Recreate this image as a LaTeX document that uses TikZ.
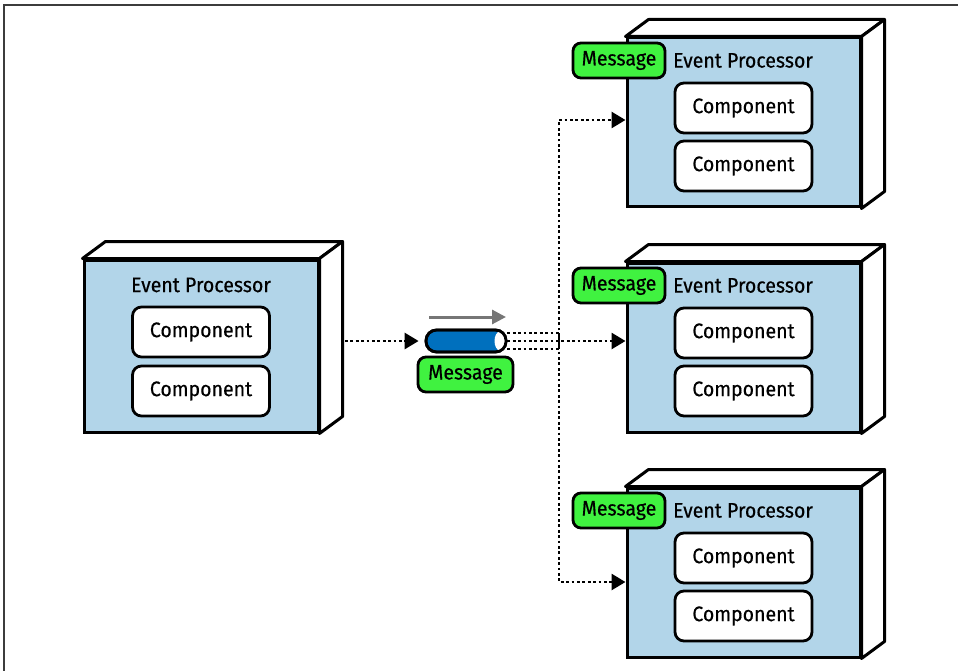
\documentclass[tikz,border=0pt]{standalone}
\usepackage{fontspec}
\setmainfont[FakeStretch=0.93,FakeBold=0.4]{Fira Sans}
\usetikzlibrary{arrows.meta}
\definecolor{facebl}{RGB}{178,213,233}
\definecolor{msggreen}{RGB}{64,242,64}
\definecolor{chanblue}{RGB}{0,112,190}
\definecolor{framegray}{RGB}{60,60,60}
\definecolor{arrgray}{RGB}{118,118,118}
\tikzset{
  front/.style={draw=black, line width=3pt, fill=facebl, minimum width=233pt, minimum height=169pt, inner sep=0pt},
  face/.style={draw=black, line width=3pt, fill=white, line join=round},
  comp/.style={draw=black, line width=2.8pt, fill=white, rounded corners=9pt, minimum width=137pt, minimum height=50pt, inner sep=0pt, font=\fontsize{21}{23}\selectfont},
  title/.style={inner sep=0pt, font=\fontsize{21}{23}\selectfont},
  badge/.style={draw=black, line width=2.8pt, fill=msggreen, rounded corners=8pt, minimum width=92pt, minimum height=35pt, inner sep=0pt, font=\fontsize{21}{23}\selectfont},
  chan/.style={draw=black, line width=2.8pt, fill=chanblue, rounded corners=10.5pt, minimum width=80pt, minimum height=22pt, inner sep=0pt},
  flow/.style={line width=2.8pt, dash pattern=on 2.8pt off 2.6pt, -{Triangle[length=14pt,width=16pt]}},
  dirarrow/.style={line width=3pt, draw=arrgray, -{Triangle[length=14pt,width=14pt]}, color=arrgray},
}
\newcommand{\mkcube}[1]{%
  \draw[face] (#1.north west) -- ++(23,-17) -- ([shift={(23pt,17pt)}]#1.north east) -- (#1.north east) -- cycle;
  \draw[face] (#1.north east) -- ([shift={(23pt,17pt)}]#1.north east) -- ([shift={(23pt,17pt)}]#1.south east) -- (#1.south east) -- cycle;
}
\begin{document}
\begin{tikzpicture}[x=1pt,y=-1pt]
\useasboundingbox (0,0) rectangle (958,671);
\draw[framegray, line width=2pt] (4,671) -- (4,5) -- (958,5);

% left event processor
\node[front, minimum width=234pt, minimum height=172pt] (lf) at (201,346) {};
\mkcube{lf}
\node[title] (lt) at (201,285) {Event Processor};
\node[comp] (lc1) at (201,332) {Component};
\node[comp] (lc2) at (201,391) {Component};

% right processors
\foreach \n/\dy in {a/0,b/225,c/450}{
  \node[front] (f\n) at (743.5,122.5+\dy) {};
  \mkcube{f\n}
  \node[title] (t\n) at (743,60.5+\dy) {Event Processor};
  \node[comp] (c\n1) at (743.5,108+\dy) {Component};
  \node[comp] (c\n2) at (743.5,166+\dy) {Component};
  \node[badge] (m\n) at (619,60.5+\dy) {Message};
}

% channel
\node[chan] (ch) at (466,341) {};
\fill[white] (500,341) ellipse [x radius=5.5pt, y radius=9.5pt];
\draw[line width=2.8pt, rounded corners=10.5pt] (426,330) rectangle (506,352);
\node[badge, minimum width=95pt] (mc) at (465.5,374.5) {Message};
\coordinate (ga) at (429,317);
\coordinate (gb) at (506,317);
\draw[dirarrow] (ga) -- (gb);

% connectors
\coordinate (ls) at (345,341);
\draw[flow, shorten >=6pt] (ls) -- (ch.west);
\coordinate (jx) at (559,0);
\draw[flow] ([yshift=-8pt]ch.east) -| (jx |- 0,120) -- (fa.west |- 0,120);
\draw[flow] (ch.east) -- (fb.west |- ch.east);
\draw[flow] ([yshift=8pt]ch.east) -| (jx |- 0,582) -- (fc.west |- 0,582);
\end{tikzpicture}
\end{document}
